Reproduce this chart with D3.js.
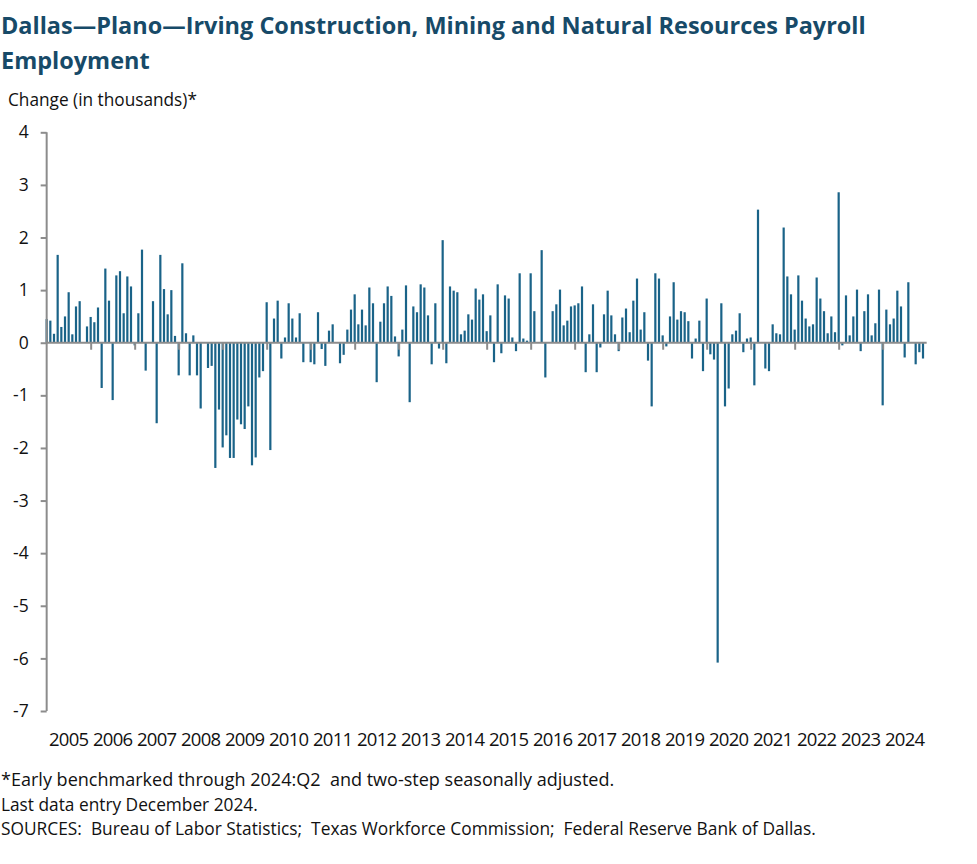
<!DOCTYPE html>
<html>
<head>
<meta charset="utf-8">
<script src="https://cdn.jsdelivr.net/npm/d3@7/dist/d3.min.js"></script>
<style>
  html, body { margin: 0; padding: 0; background: #ffffff; }
  svg { display: block; }
  text { white-space: pre; }
</style>
</head>
<body>
<svg id="chart" width="977" height="864"></svg>
<script>
// ---- Data (monthly change, thousands), Jan 2005 – Dec 2024 ----
const years = ["2005","2006","2007","2008","2009","2010","2011","2012","2013","2014",
               "2015","2016","2017","2018","2019","2020","2021","2022","2023","2024"];
const values = [
  0.45, 0.42, 0.17, 1.67, 0.30, 0.50, 0.96, 0.16, 0.69, 0.79, 0.00, 0.31,   // 2005
  0.49, 0.39, 0.67,-0.86, 1.41, 0.80,-1.09, 1.28, 1.36, 0.56, 1.26, 1.07,   // 2006
 -0.05, 0.56, 1.77,-0.53, 0.00, 0.79,-1.53, 1.67, 1.02, 0.54, 1.00, 0.13,   // 2007
 -0.62, 1.51, 0.18,-0.62, 0.14,-0.62,-1.25, 0.00,-0.48,-0.44,-2.38,-1.27,   // 2008
 -1.99,-1.76,-2.19,-2.19,-1.46,-1.55,-1.64,-1.21,-2.33,-2.18,-0.66,-0.54,   // 2009
  0.77,-2.04, 0.46, 0.80,-0.30, 0.10, 0.75, 0.46, 0.10, 0.56,-0.37, 0.00,   // 2010
 -0.37,-0.41, 0.58,-0.12,-0.44, 0.23, 0.35, 0.00,-0.39,-0.23, 0.25, 0.63,   // 2011
  0.92, 0.35, 0.63, 0.33, 1.05, 0.75,-0.75, 0.40, 0.75, 1.07, 0.89, 0.12,   // 2012
 -0.26, 0.25, 1.09,-1.13, 0.69, 0.58, 1.11, 1.05, 0.52,-0.41, 0.75,-0.11,   // 2013
  1.95,-0.39, 1.07, 0.99, 0.96, 0.16, 0.23, 0.54, 0.44, 1.03, 0.82, 0.92,   // 2014
  0.22, 0.52,-0.37, 1.11,-0.20, 0.90, 0.84, 0.10,-0.16, 1.32, 0.08, 0.04,   // 2015
  1.32, 0.60, 0.00, 1.76,-0.66, 0.00, 0.60, 0.73, 1.01, 0.33, 0.42, 0.69,   // 2016
  0.71, 0.75, 1.07,-0.56, 0.16, 0.73,-0.56,-0.09, 0.54, 0.99, 0.52, 0.16,   // 2017
 -0.16, 0.48, 0.65, 0.20, 0.80, 1.22, 0.25, 0.58,-0.34,-1.21, 1.32, 1.22,   // 2018
  0.14,-0.07, 0.50, 1.15, 0.44, 0.60, 0.58, 0.41,-0.30, 0.08, 0.42,-0.54,   // 2019
  0.84,-0.22,-0.32,-6.08, 0.75,-1.21,-0.87, 0.16, 0.23, 0.56,-0.18, 0.08,   // 2020
  0.10,-0.81, 2.53, 0.00,-0.49,-0.54, 0.35, 0.18, 0.16, 2.19, 1.26, 0.92,   // 2021
  0.25, 1.28, 0.80, 0.46, 0.31, 0.35, 1.24, 0.84, 0.60, 0.18, 0.50, 0.20,   // 2022
  2.86,-0.05, 0.90, 0.14, 0.50, 1.01,-0.16, 0.60, 0.92, 0.14, 0.37, 1.01,   // 2023
 -1.19, 0.63, 0.35, 0.46, 0.99, 0.69,-0.28, 1.15, 0.00,-0.41,-0.18,-0.30    // 2024
];
const yTicks = [4, 3, 2, 1, 0, -1, -2, -3, -4, -5, -6, -7];

const titleLines = ["Dallas\u2014Plano\u2014Irving Construction, Mining and Natural Resources Payroll", "Employment"];
const yLabel = "Change (in thousands)*";
const notes = [
  "*Early benchmarked through 2024:Q2  and two-step seasonally adjusted.",
  "Last data entry December 2024.",
  "SOURCES:  Bureau of Labor Statistics;  Texas Workforce Commission;  Federal Reserve Bank of Dallas."
];

// ---- Style ----
const barColor = "#1a6388";
const titleColor = "#174a68";
const axisColor = "#8c8c8c";
const textFont = "'Open Sans', 'Liberation Sans', Arial, sans-serif";

const svg = d3.select("#chart");

// helper: fit text to a target width by adjusting font size
function fitText(sel, targetWidth) {
  const node = sel.node();
  const w = node.getComputedTextLength();
  const fs = parseFloat(sel.attr("font-size"));
  if (w > 0) sel.attr("font-size", (fs * targetWidth / w).toFixed(2));
}

// ---- Title ----
const t1 = svg.append("text").attr("x", 1).attr("y", 34)
  .attr("font-family", textFont).attr("font-weight", 700)
  .attr("font-size", 22).attr("fill", titleColor).text(titleLines[0]);
fitText(t1, 865);
const t2 = svg.append("text").attr("x", 1).attr("y", 69)
  .attr("font-family", textFont).attr("font-weight", 700)
  .attr("font-size", t1.attr("font-size")).attr("fill", titleColor).text(titleLines[1]);

// ---- Y label ----
const yl = svg.append("text").attr("x", 8).attr("y", 106)
  .attr("font-family", textFont).attr("font-size", 16).attr("fill", "#111")
  .text(yLabel);
fitText(yl, 189);

// ---- Scales ----
const x = d3.scaleLinear().domain([0, values.length]).range([46.67, 926.67]);
const y = d3.scaleLinear().domain([-7, 4]).range([711, 132.3]);
const barW = 2.2;

// ---- Bars ----
svg.append("g").selectAll("rect").data(values).join("rect")
  .attr("x", (d, i) => x(i) - barW / 2)
  .attr("width", barW)
  .attr("y", d => y(Math.max(0, d)))
  .attr("height", d => Math.abs(y(d) - y(0)))
  .attr("fill", barColor);

// ---- Zero line with year ticks ----
const xAxis = d3.axisBottom(x)
  .tickValues(d3.range(12, values.length, 12))
  .tickSize(7).tickFormat("");
const gx = svg.append("g").attr("transform", `translate(0,${y(0)})`).call(xAxis);
gx.select(".domain").attr("stroke", axisColor).attr("stroke-width", 2)
  .attr("d", `M${x(0)},0H${x(values.length)}`);
gx.selectAll(".tick line").attr("stroke", axisColor).attr("stroke-width", 2);

// ---- Y axis ----
const yAxis = d3.axisLeft(y).tickValues(yTicks).tickSize(6).tickPadding(12)
  .tickFormat(d3.format("d"));
const gy = svg.append("g").attr("transform", `translate(${x(0)},0)`).call(yAxis);
gy.select(".domain").attr("stroke", axisColor).attr("stroke-width", 2)
  .attr("d", `M0,${y(4)}V${y(-7)}`);
gy.selectAll(".tick line").attr("stroke", axisColor).attr("stroke-width", 2);
gy.selectAll(".tick text").attr("font-family", textFont).attr("font-size", 17.5)
  .attr("fill", "#111").text(d => d < 0 ? "-" + Math.abs(d) : d);

// ---- Year labels ----
svg.append("g").selectAll("text").data(years).join("text")
  .attr("x", (d, i) => x(i * 12 + 6))
  .attr("y", 746)
  .attr("text-anchor", "middle")
  .attr("font-family", textFont).attr("font-size", 18.5).attr("fill", "#111")
  .attr("letter-spacing", -0.7)
  .text(d => d);

// ---- Notes ----
const noteTargets = [614, 257, 815];
notes.forEach((n, i) => {
  const t = svg.append("text").attr("x", 1).attr("y", 786 + i * 24.5)
    .attr("font-family", textFont).attr("font-size", 16).attr("fill", "#111")
    .text(n);
  fitText(t, noteTargets[i]);
});
</script>
</body>
</html>
